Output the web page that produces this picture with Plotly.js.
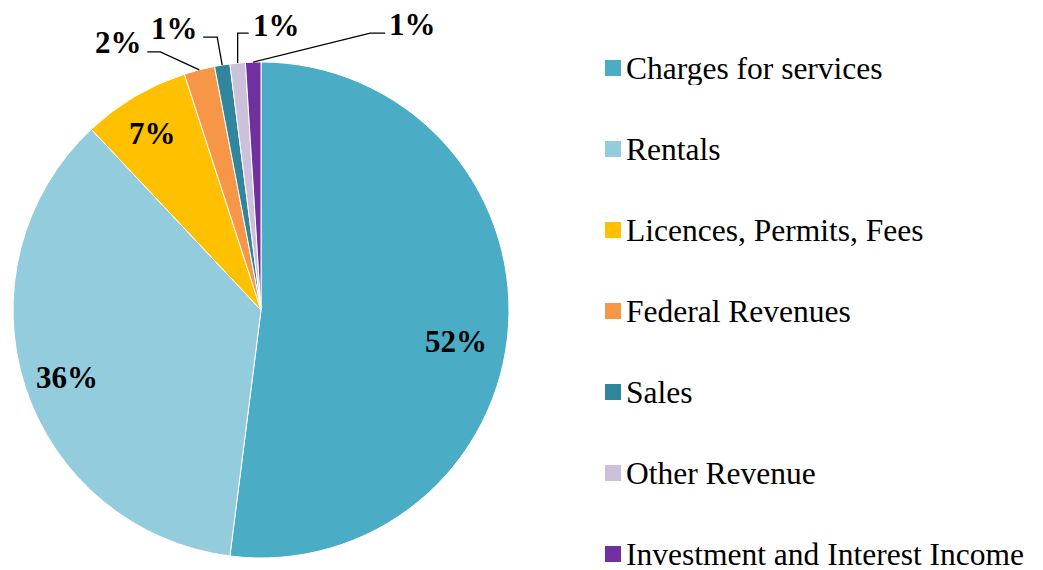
<!DOCTYPE html>
<html>
<head>
<meta charset="utf-8">
<script src="https://cdn.plot.ly/plotly-3.0.1.min.js"></script>
<style>html,body{margin:0;padding:0;background:#fff;}#chart{width:1043px;height:570px;}</style>
</head>
<body>
<div id="chart"></div>
<script>
// ---- data ----
const categories = ["Charges for services", "Rentals", "Licences, Permits, Fees", "Federal Revenues", "Sales", "Other Revenue", "Investment and Interest Income"];
const values = [52, 36, 7, 2, 1, 1, 1];
const colors = ["#4BACC6", "#93CDDD", "#FFC000", "#F79646", "#31859C", "#CCC1DA", "#7030A0"];

// ---- layout / styling ----
const W = 1043, H = 570;
const cx = 261, cy = 310, R = 248;
// label placement per slice (inside: radial fraction + angle shift; outside: leader elbow offsets in px)
const labelStyle = [
  {kind: "inside", rf: 0.797, dAng: 5.7},
  {kind: "inside", rf: 0.828, dAng: -1.1},
  {kind: "inside", rf: 0.836, dAng: -0.8},
  {kind: "outside", elbow: [-39, -18], end: [-52, -18], lab: [-55, -27], anchor: "right"},
  {kind: "outside", elbow: [-5, -28], end: [-19, -28], lab: [-22, -37], anchor: "right"},
  {kind: "outside", elbow: [0, -30], end: [11, -30], lab: [13, -38], anchor: "left"},
  {kind: "outside", elbow: [117, -29], end: [132, -29], lab: [134, -38], anchor: "left"}
];
const legendX = 605, legendTextX = 625, legendY0 = 68, legendStep = 81, legendBox = 16;

const px = x => x / W;
const py = y => 1 - y / H;

const total = values.reduce((a, b) => a + b, 0);
const annotations = [];
const shapes = [];
let cum = 0;
values.forEach((v, i) => {
  const midFrac = (cum + v / 2) / total;
  cum += v;
  const st = labelStyle[i];
  const pctText = "<b>" + Math.round(v / total * 100) + "%</b>";
  const font = {family: "Liberation Serif, Times New Roman, serif", size: 31, color: "#000"};
  if (st.kind === "inside") {
    const th = (midFrac * 360 + st.dAng) * Math.PI / 180;
    const x = cx + st.rf * R * Math.sin(th);
    const y = cy - st.rf * R * Math.cos(th);
    annotations.push({x: px(x), y: py(y), xref: "paper", yref: "paper", text: pctText, showarrow: false,
      xanchor: "center", yanchor: "middle", font: font});
  } else {
    const th = midFrac * 2 * Math.PI;
    const ex = cx + R * Math.sin(th), ey = cy - R * Math.cos(th);
    const p = [[ex, ey], [ex + st.elbow[0], ey + st.elbow[1]], [ex + st.end[0], ey + st.end[1]]];
    const path = "M " + p.map(q => px(q[0]) + "," + py(q[1])).join(" L ");
    shapes.push({type: "path", xref: "paper", yref: "paper", path: path, line: {color: "#000", width: 1.3}});
    annotations.push({x: px(ex + st.lab[0]), y: py(ey + st.lab[1]), xref: "paper", yref: "paper", text: pctText,
      showarrow: false, xanchor: st.anchor, yanchor: "middle", font: font});
  }
});

// legend (drawn manually for Excel-like spacing)
categories.forEach((c, i) => {
  const yc = legendY0 + i * legendStep;
  shapes.push({type: "rect", xref: "paper", yref: "paper",
    x0: px(legendX), x1: px(legendX + legendBox), y0: py(yc - legendBox / 2), y1: py(yc + legendBox / 2),
    fillcolor: colors[i], line: {width: 0}});
  annotations.push({x: px(legendTextX), y: py(yc), xref: "paper", yref: "paper", text: c, showarrow: false,
    xanchor: "left", yanchor: "middle", borderpad: 0, height: 34, valign: "middle",
    font: {family: "Liberation Serif, Times New Roman, serif", size: 31.5, color: "#000"}});
});

const trace = {
  type: "pie",
  labels: categories,
  values: values,
  sort: false,
  direction: "clockwise",
  rotation: 0,
  textinfo: "none",
  hoverinfo: "label+percent",
  marker: {colors: colors, line: {color: "#ffffff", width: 1}},
  domain: {x: [px(cx - R), px(cx + R)], y: [py(cy + R), py(cy - R)]},
  showlegend: false
};

const layout = {
  width: W, height: H,
  margin: {l: 0, r: 0, t: 0, b: 0},
  paper_bgcolor: "#ffffff",
  plot_bgcolor: "#ffffff",
  showlegend: false,
  annotations: annotations,
  shapes: shapes
};

Plotly.newPlot("chart", [trace], layout, {displayModeBar: false, staticPlot: true});
</script>
</body>
</html>
